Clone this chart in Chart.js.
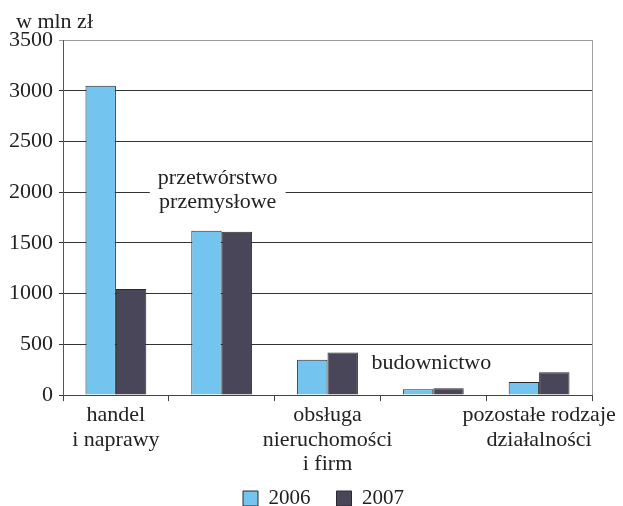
<!DOCTYPE html>
<html>
<head>
<meta charset="utf-8">
<script src="https://cdn.jsdelivr.net/npm/chart.js@4.4.0/dist/chart.umd.min.js"></script>
<style>
  html, body { margin: 0; padding: 0; background: #fff; }
  #wrap { width: 623px; height: 506px; }
</style>
</head>
<body>
<div id="wrap"><canvas id="wykres" width="623" height="506"></canvas></div>
<script>
// dane
var kategorie = [
  ['handel', 'i naprawy'],
  ['przetwórstwo', 'przemysłowe'],
  ['obsługa', 'nieruchomości', 'i firm'],
  ['budownictwo'],
  ['pozostałe rodzaje', 'działalności']
];
var podpisyPodOsia = [true, false, true, false, true]; // które nazwy idą pod oś
var lata = ['2006', '2007'];
var wartosci2006 = [3050, 1620, 348, 58, 128];
var wartosci2007 = [1045, 1610, 420, 68, 225];
var jednostka = 'w mln zł';

var etykietyX = kategorie.map(function (k, i) { return podpisyPodOsia[i] ? k : ''; });

// podpisy wewnątrz wykresu (przetwórstwo, budownictwo)
var podpisyWewnatrz = {
  id: 'podpisyWewnatrz',
  afterLayout: function (chart) {
    // legenda trochę wyżej i w prawo, jak w oryginale
    var lg = chart.legend;
    if (lg) {
      lg.top -= 17; lg.bottom -= 17;
      lg.left += 26; lg.right += 26;
    }
  },
  afterDraw: function (chart) {
    var ctx = chart.ctx;
    var x = chart.scales.x, y = chart.scales.y;
    var area = chart.chartArea;
    ctx.save();
    ctx.font = '22px "Liberation Serif"';
    ctx.fillStyle = '#222';
    ctx.textBaseline = 'middle';
    ctx.textAlign = 'center';
    var ustawienia = [
      { idx: 1, wartosc: 2021, tlo: true, dx: -4 },
      { idx: 3, wartosc: 315, tlo: false, dx: -2 }
    ];
    ustawienia.forEach(function (u) {
      var linie = kategorie[u.idx];
      var cx = x.getPixelForValue(u.idx) + u.dx;
      var cy = y.getPixelForValue(u.wartosc);
      var h = 24;
      var start = cy - (linie.length - 1) * h / 2;
      if (u.tlo) {
        var szer = 0;
        linie.forEach(function (l) { szer = Math.max(szer, ctx.measureText(l).width); });
        ctx.fillStyle = '#fff';
        ctx.fillRect(cx - szer / 2 - 8, start - h / 2 - 2, szer + 16, linie.length * h + 4);
        ctx.fillStyle = '#222';
      }
      linie.forEach(function (l, j) {
        ctx.fillText(l, cx, start + j * h);
      });
    });
    // jednostka nad osią
    ctx.textAlign = 'left';
    ctx.fillText(jednostka, 16, 22);
    // prawa krawędź
    ctx.strokeStyle = '#a0a0a0';
    ctx.lineWidth = 1;
    ctx.beginPath();
    ctx.moveTo(Math.round(area.right) + 0.5, area.top);
    ctx.lineTo(Math.round(area.right) + 0.5, area.bottom);
    ctx.stroke();
    ctx.restore();
  }
};

Chart.defaults.font.family = '"Liberation Serif", "Times New Roman", serif';
Chart.defaults.font.size = 22;
Chart.defaults.color = '#222';

var wykres = new Chart(document.getElementById('wykres'), {
  type: 'bar',
  data: {
    labels: etykietyX,
    datasets: [{
      label: lata[0],
      data: wartosci2006,
      backgroundColor: '#74c4f0',
      borderColor: '#2a2a2a',
      borderWidth: 1
    }, {
      label: lata[1],
      data: wartosci2007,
      backgroundColor: '#4a4659',
      borderColor: '#2a2a2a',
      borderWidth: 1
    }]
  },
  options: {
    responsive: false,
    animation: false,
    layout: { padding: { left: 3, right: 31, top: 40, bottom: -30 } },
    datasets: { bar: { categoryPercentage: 0.575, barPercentage: 1 } },
    plugins: {
      tooltip: { enabled: false },
      legend: {
        position: 'bottom',
        labels: {
          boxWidth: 15,
          boxHeight: 15,
          padding: 26,
          color: '#222',
          font: { size: 21 }
        }
      }
    },
    scales: {
      x: {
        grid: {
          offset: true,
          drawOnChartArea: false,
          tickLength: 6,
          color: '#444'
        },
        border: { color: '#444', width: 1 },
        ticks: { maxRotation: 0, autoSkip: false, padding: 2, font: { size: 22, lineHeight: 1.12 } }
      },
      y: {
        min: 0,
        max: 3500,
        ticks: {
          stepSize: 500,
          padding: 6,
          font: { size: 22 },
          callback: function (v) { return String(v); }
        },
        grid: {
          tickLength: 4,
          color: function (c) { return c.tick && c.tick.value === 3500 ? '#9a9a9a' : '#333'; }
        },
        border: { color: '#555', width: 1 }
      }
    }
  },
  plugins: [podpisyWewnatrz]
});
</script>
</body>
</html>
